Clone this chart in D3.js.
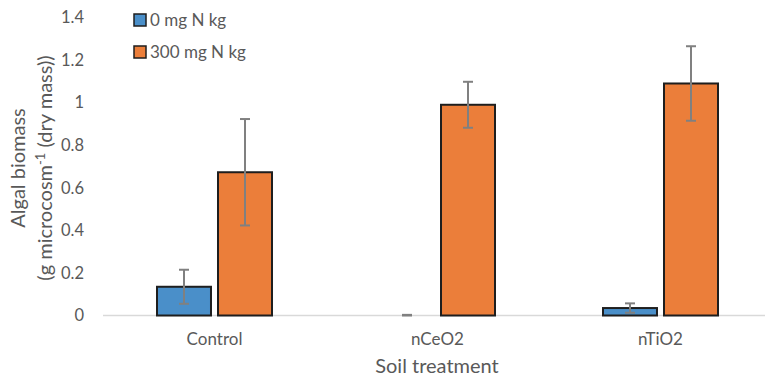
<!DOCTYPE html>
<html>
<head>
<meta charset="utf-8">
<script src="https://cdn.jsdelivr.net/npm/d3@7"></script>
<style>
  body { margin: 0; background: #fff; }
  text { font-family: Lato, "Open Sans", sans-serif; fill: #595959; }
</style>
</head>
<body>
<div id="chart"></div>
<script>
// chart data
let categories = ["Control", "nCeO2", "nTiO2"];
let seriesNames = ["0 mg N kg", "300 mg N kg"];
let values0 = [0.135, 0.0, 0.035];
let errors0 = [0.08, 0.003, 0.022];
let values300 = [0.673, 0.99, 1.09];
let errors300 = [0.25, 0.108, 0.175];
let yTicks = [0, 0.2, 0.4, 0.6, 0.8, 1, 1.2, 1.4];

let fill_colors = ["#4a8fc9", "#eb7e3a"];

let width = 765, height = 379;
let svg = d3.select("#chart").append("svg")
    .attr("width", width)
    .attr("height", height);

let x = d3.scaleBand().domain(categories).range([103, 772]);
let inner = d3.scaleBand().domain([0, 1]).range([54, x.bandwidth() - 54]).paddingInner(0.115);
let y = d3.scaleLinear().domain([0, 1.4]).range([315.5, 17.5]);

// y tick labels
svg.selectAll()
    .data(yTicks)
    .enter()
    .append("text")
    .attr("x", 84)
    .attr("y", d => y(d))
    .attr("dy", "0.35em")
    .attr("text-anchor", "end")
    .style("font-size", "16.5px")
    .text(d => d3.format("")(d));

// baseline
svg.append("line")
    .attr("x1", 103).attr("x2", 772)
    .attr("y1", y(0)).attr("y2", y(0))
    .style("stroke", "#d9d9d9")
    .style("stroke-width", 1.5);

let rows = [];
categories.forEach((c, i) => {
    rows.push({cat: c, s: 0, v: values0[i], e: errors0[i]});
    rows.push({cat: c, s: 1, v: values300[i], e: errors300[i]});
});

// bars
svg.selectAll()
    .data(rows.filter(d => d.v > 0))
    .enter()
    .append("rect")
    .attr("x", d => x(d.cat) + inner(d.s))
    .attr("y", d => y(d.v))
    .attr("width", inner.bandwidth())
    .attr("height", d => y(0) - y(d.v))
    .style("fill", d => fill_colors[d.s])
    .style("stroke", "#1e1e1e")
    .style("stroke-width", 2);

// error bars
let eb = svg.selectAll()
    .data(rows)
    .enter()
    .append("g")
    .style("stroke", "#808080")
    .style("stroke-width", 2);

eb.append("line")
    .attr("x1", d => x(d.cat) + inner(d.s) + inner.bandwidth() / 2)
    .attr("x2", d => x(d.cat) + inner(d.s) + inner.bandwidth() / 2)
    .attr("y1", d => y(d.v + d.e))
    .attr("y2", d => y(Math.max(0, d.v - d.e)));

[1, -1].forEach(sign => {
    eb.append("line")
        .attr("x1", d => x(d.cat) + inner(d.s) + inner.bandwidth() / 2 - 5)
        .attr("x2", d => x(d.cat) + inner(d.s) + inner.bandwidth() / 2 + 5)
        .attr("y1", d => y(Math.max(0, d.v + sign * d.e)))
        .attr("y2", d => y(Math.max(0, d.v + sign * d.e)));
});

// x tick labels
svg.selectAll()
    .data(categories)
    .enter()
    .append("text")
    .attr("x", d => x(d) + x.bandwidth() / 2)
    .attr("y", 345)
    .attr("text-anchor", "middle")
    .style("font-size", "17px")
    .text(d => d);

// axis titles
svg.append("text")
    .attr("x", 437)
    .attr("y", 373)
    .attr("text-anchor", "middle")
    .style("font-size", "20px")
    .text("Soil treatment");

let yt = svg.append("text")
    .attr("transform", "translate(25,168) rotate(-90)")
    .attr("text-anchor", "middle")
    .style("font-size", "20px");
yt.append("tspan").attr("x", 0).attr("y", 0).text("Algal biomass");
let t2 = yt.append("tspan").attr("x", 0).attr("y", 27);
t2.append("tspan").text("(g microcosm");
t2.append("tspan").attr("dy", -7).style("font-size", "13px").text("-1");
t2.append("tspan").attr("dy", 7).text(" (dry mass))");

// legend
let legend = svg.selectAll()
    .data(seriesNames)
    .enter()
    .append("g")
    .attr("transform", (d, i) => "translate(134," + (14 + i * 32) + ")");
legend.append("rect")
    .attr("width", 12).attr("height", 12)
    .style("fill", (d, i) => fill_colors[i])
    .style("stroke", "#1e1e1e")
    .style("stroke-width", 1.5);
legend.append("text")
    .attr("x", 16)
    .attr("y", 6)
    .attr("dy", "0.35em")
    .style("font-size", "17px")
    .text(d => d);
</script>
</body>
</html>
